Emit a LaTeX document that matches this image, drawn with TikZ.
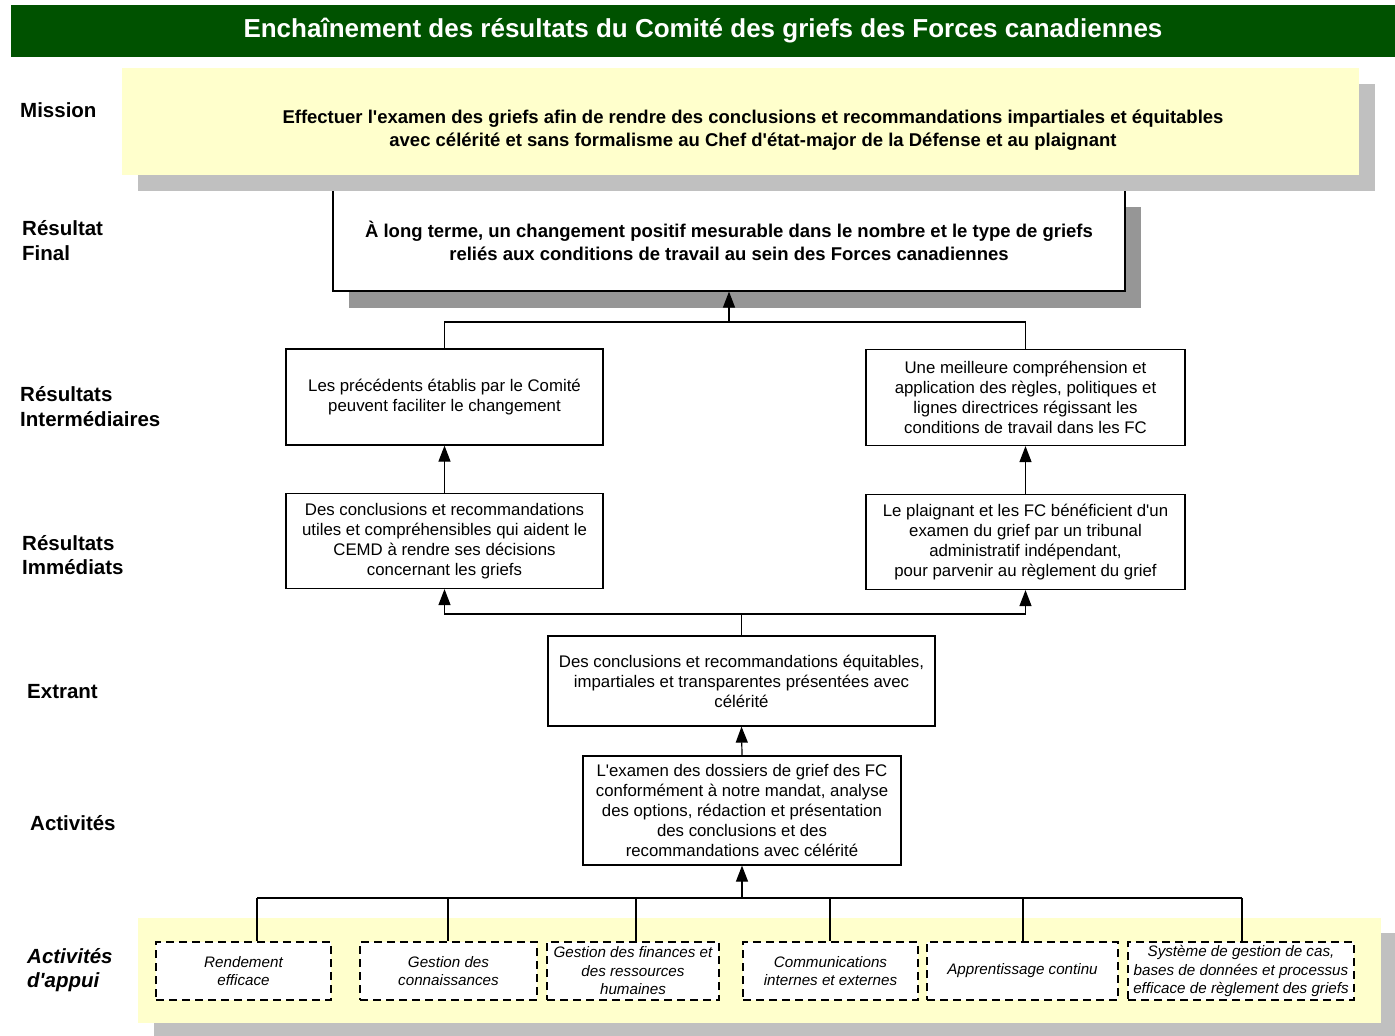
\documentclass[tikz,border=0pt]{standalone}
\usepackage{fontspec}
\newfontfamily\arialfamily{Liberation Sans}
\AtBeginDocument{\arialfamily}
\usetikzlibrary{arrows.meta}
\definecolor{titlegreen}{RGB}{0,82,0}
\definecolor{paleyellow}{RGB}{255,255,204}
\definecolor{lightshadow}{RGB}{192,192,192}
\definecolor{darkshadow}{RGB}{150,150,150}

\begin{document}
\begin{tikzpicture}[x=1pt,y=-1pt,level/.style={anchor=west,align=left,inner sep=0pt,font=\bfseries\fontsize{20.5}{24.5}\selectfont},result/.style={draw,line width=1.2pt,fill=white,align=center,inner sep=0pt,font=\fontsize{16.8}{20}\selectfont},support/.style={draw,line width=1.2pt,dash pattern=on 8pt off 5pt,fill=white,align=center,inner sep=0pt,minimum height=58pt,font=\itshape\fontsize{15.2}{18.5}\selectfont},link/.style={line width=1.2pt},uplink/.style={line width=1.2pt,-{Triangle[length=16pt,width=12pt]}}]
\useasboundingbox (0,0) rectangle (1395,1036);
\coordinate (jfinal) at (729,322);
\coordinate (jim) at (741.5,614);
\coordinate (jbus) at (742,898);
\coordinate (t1) at (257,898);
\coordinate (t2) at (448,898);
\coordinate (t3) at (636,898);
\coordinate (t4) at (830,898);
\coordinate (t5) at (1023,898);
\coordinate (t6) at (1242,898);
\node[fill=titlegreen,text=white,minimum width=1384pt,minimum height=52pt,inner sep=0pt,font=\bfseries\fontsize{26}{30}\selectfont] (title) at (703,31) {Enchaînement des résultats du Comité des griefs des Forces canadiennes};
\fill[darkshadow] (349,207) rectangle (1141,308);
\node[result,minimum width=792pt,minimum height=101pt,font=\bfseries\fontsize{18.5}{23}\selectfont] (final) at (729,240.5) {À long terme, un changement positif mesurable dans le nombre et le type de griefs\\reliés aux conditions de travail au sein des Forces canadiennes};
\fill[lightshadow] (138,84) rectangle (1375,191);
\fill[paleyellow] (122,68) rectangle (1359,175);
\node[align=center,font=\bfseries\fontsize{18.5}{23}\selectfont] (mission) at (753,130.5) {Effectuer l'examen des griefs afin de rendre des conclusions et recommandations impartiales et équitables\\avec célérité et sans formalisme au Chef d'état-major de la Défense et au plaignant};
\node[result,minimum width=317pt,minimum height=96pt] (irleft) at (444.5,397) {Les précédents établis par le Comité\\peuvent faciliter le changement};
\node[result,minimum width=319pt,minimum height=96pt] (irright) at (1025.5,397.5) {Une meilleure compréhension et\\application des règles, politiques et\\lignes directrices régissant les\\conditions de travail dans les FC};
\node[result,minimum width=317pt,minimum height=95pt] (imleft) at (444.5,541) {Des conclusions et recommandations\\utiles et compréhensibles qui aident le\\CEMD à rendre ses décisions\\concernant les griefs};
\node[result,minimum width=319pt,minimum height=95pt] (imright) at (1025.5,542) {Le plaignant et les FC bénéficient d'un\\examen du grief par un tribunal\\administratif indépendant,\\pour parvenir au règlement du grief};
\node[result,minimum width=387pt,minimum height=90pt] (extrant) at (741.5,681) {Des conclusions et recommandations équitables,\\impartiales et transparentes présentées avec\\célérité};
\node[result,minimum width=318pt,minimum height=109pt] (activites) at (742,810.5) {L'examen des dossiers de grief des FC\\conformément à notre mandat, analyse\\des options, rédaction et présentation\\des conclusions et des\\recommandations avec célérité};
\draw[link] (irleft.north) |- (jfinal) -| (irright.north);
\draw[uplink] (jfinal) -- (final.south);
\draw[uplink] (imleft.north) -- (irleft.south);
\draw[uplink] (imright.north) -- (irright.south);
\draw[link] (extrant.north) -- (jim);
\draw[uplink] (jim) -| (imleft.south);
\draw[uplink] (jim) -| (imright.south);
\draw[uplink] (activites.north) -- (extrant.south);
\draw[uplink] (jbus) -- (activites.south);
\fill[lightshadow] (154,933) rectangle (1395,1036);
\fill[paleyellow] (138,918) rectangle (1381,1023);
\node[support,minimum width=175pt] (s1) at (243.5,971) {Rendement\\efficace};
\node[support,minimum width=177pt] (s2) at (448.5,971) {Gestion des\\connaissances};
\node[support,minimum width=172pt] (s3) at (633,971) {Gestion des finances et\\des ressources\\humaines};
\node[support,minimum width=175pt] (s4) at (830.5,971) {Communications\\internes et externes};
\node[support,minimum width=191pt] (s5) at (1022.5,971) {Apprentissage continu};
\node[support,minimum width=226pt] (s6) at (1241,971) {Système de gestion de cas,\\bases de données et processus\\efficace de règlement des griefs};
\draw[link] (t1) -- (t6);
\draw[link] (t1) -- (t1 |- s1.north);
\draw[link] (t2) -- (t2 |- s2.north);
\draw[link] (t3) -- (t3 |- s3.north);
\draw[link] (t4) -- (t4 |- s4.north);
\draw[link] (t5) -- (t5 |- s5.north);
\draw[link] (t6) -- (t6 |- s6.north);
\node[level] (lmission) at (20,110) {Mission};
\node[level] (lfinal) at (22,240.5) {Résultat\\Final};
\node[level] (linter) at (20,406.5) {Résultats\\Intermédiaires};
\node[level] (limmed) at (22,555) {Résultats\\Immédiats};
\node[level] (lextrant) at (27,692) {Extrant};
\node[level] (lactiv) at (30,823) {Activités};
\node[level,font=\bfseries\itshape\fontsize{20.5}{24}\selectfont] (lappui) at (27,970) {Activités\\d'appui};
\end{tikzpicture}
\end{document}
